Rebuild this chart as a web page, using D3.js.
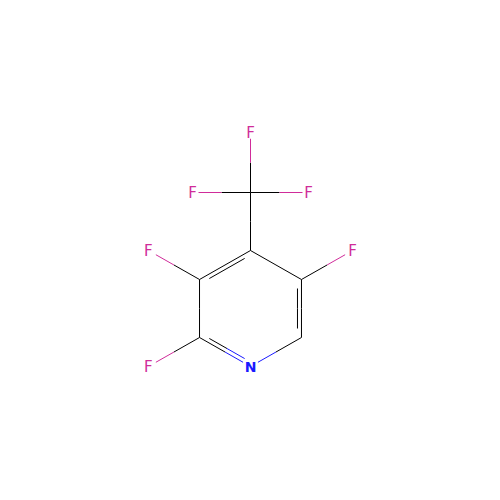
<!DOCTYPE html>
<html>
<head>
<meta charset="utf-8">
<script src="https://cdn.jsdelivr.net/npm/d3@7"></script>
<style>
  html,body{margin:0;padding:0;background:#fff;}
  svg{display:block;}
  text{font-family:"DejaVu Sans",sans-serif;}
</style>
</head>
<body>
<svg id="mol" width="500" height="500"></svg>
<script>
// atom tables, coordinates in bond lengths, y going up
const atomIds   = ["C4","C3","C2","N1","C6","C5","CF","Fa","Fb","Fc","F3","F2","F5"];
const atomEls   = ["C","C","C","N","C","C","C","F","F","F","F","F","F"];
const atomX     = [0,-0.879,-0.879,0,0.879,0.879,0,0,-1,1,-1.76,-1.76,1.76];
const atomY     = [0,-0.5,-1.5,-2,-1.5,-0.5,1,2.03,1,1,0,-2,0];

// bonds: from, to, order
const bondFrom  = ["C4","C3","C2","N1","C6","C5","C4","CF","CF","CF","C3","C2","C5"];
const bondTo    = ["C3","C2","N1","C6","C5","C4","CF","Fa","Fb","Fc","F3","F2","F5"];
const bondOrder = [2,1,2,1,2,1,1,1,1,1,1,1,1];

const colors = {C:"#000000", N:"#1a1aff", F:"#d02c9a"};
const UNIT = 58;
const INNER_OFF = 4, INNER_TRIM = 9;

const x = d3.scaleLinear().domain([-1,1]).range([250.5-UNIT,250.5+UNIT]);
const y = d3.scaleLinear().domain([-1,1]).range([250.5+UNIT,250.5-UNIT]);

const atoms = {};
atomIds.forEach((id,i)=>{ atoms[id]={id:id, el:atomEls[i], px:x(atomX[i]), py:y(atomY[i])}; });

const svg = d3.select("#mol");
const gBonds = svg.append("g").attr("fill","none").attr("stroke-width",1);
const gLabels = svg.append("g");

// ring centre, the inner line of a double bond goes on this side
const ringIds = ["C4","C3","C2","N1","C6","C5"];
const cx = d3.mean(ringIds,k=>atoms[k].px), cy = d3.mean(ringIds,k=>atoms[k].py);

function seg(x1,y1,x2,y2,col){
  gBonds.append("line")
    .attr("x1",x1).attr("y1",y1).attr("x2",x2).attr("y2",y2)
    .attr("stroke",col);
}

// labels are wider on the diagonals than along the axes
function labelGap(el,ux,uy){
  return el==="C" ? 0 : 6 + 3*Math.abs(2*ux*uy);
}

bondFrom.forEach((f,i)=>{
  const a=atoms[f], b=atoms[bondTo[i]];
  const L=Math.hypot(b.px-a.px,b.py-a.py), ux=(b.px-a.px)/L, uy=(b.py-a.py)/L;
  const mx=(a.px+b.px)/2, my=(a.py+b.py)/2;
  const s=labelGap(a.el,ux,uy), e=labelGap(b.el,ux,uy);
  // half of the bond in each atom's colour
  seg(a.px+ux*s,a.py+uy*s,mx,my,colors[a.el]);
  seg(mx,my,b.px-ux*e,b.py-uy*e,colors[b.el]);
  if(bondOrder[i]===2){
    let nx=-uy, ny=ux;
    if((cx-mx)*nx+(cy-my)*ny<0){ nx=-nx; ny=-ny; }
    const x1=a.px+ux*INNER_TRIM+nx*INNER_OFF, y1=a.py+uy*INNER_TRIM+ny*INNER_OFF;
    const x2=b.px-ux*INNER_TRIM+nx*INNER_OFF, y2=b.py-uy*INNER_TRIM+ny*INNER_OFF;
    seg(x1,y1,(x1+x2)/2,(y1+y2)/2,colors[a.el]);
    seg((x1+x2)/2,(y1+y2)/2,x2,y2,colors[b.el]);
  }
});

gLabels.selectAll("text")
  .data(Object.values(atoms).filter(d=>d.el!=="C"))
  .enter().append("text")
  .attr("x",d=>d.px).attr("y",d=>d.py)
  .attr("text-anchor","middle").attr("dy","0.36em")
  .attr("font-size",d=>d.el==="N"?14:15)
  .attr("fill",d=>colors[d.el])
  .attr("font-weight",d=>d.el==="N"?"bold":"normal")
  .text(d=>d.el);
</script>
</body>
</html>
